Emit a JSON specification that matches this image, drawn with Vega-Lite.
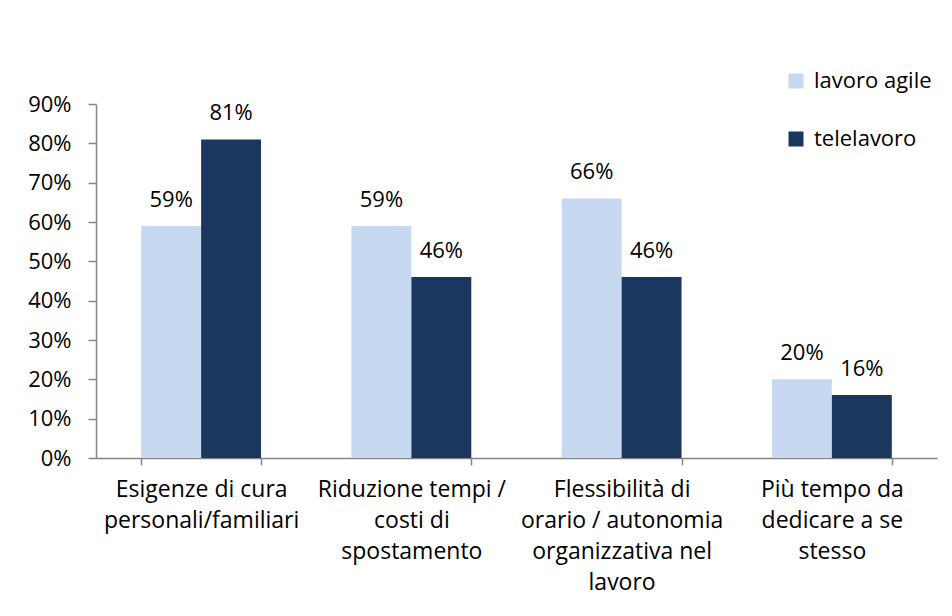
{
  "$schema": "https://vega.github.io/schema/vega-lite/v6.json",
  "width": 841,
  "height": 354,
  "autosize": "none",
  "padding": {"left": 96, "top": 104, "right": 15, "bottom": 158},
  "background": "white",
  "data": {
    "values": [
      {"cat": "Esigenze di cura|personali/familiari", "serie": "lavoro agile", "value": 0.59},
      {"cat": "Esigenze di cura|personali/familiari", "serie": "telelavoro", "value": 0.81},
      {"cat": "Riduzione tempi /|costi di|spostamento", "serie": "lavoro agile", "value": 0.59},
      {"cat": "Riduzione tempi /|costi di|spostamento", "serie": "telelavoro", "value": 0.46},
      {"cat": "Flessibilità di|orario / autonomia|organizzativa nel|lavoro", "serie": "lavoro agile", "value": 0.66},
      {"cat": "Flessibilità di|orario / autonomia|organizzativa nel|lavoro", "serie": "telelavoro", "value": 0.46},
      {"cat": "Più tempo da|dedicare a se|stesso", "serie": "lavoro agile", "value": 0.20},
      {"cat": "Più tempo da|dedicare a se|stesso", "serie": "telelavoro", "value": 0.16}
    ]
  },
  "encoding": {
    "x": {
      "field": "cat",
      "type": "nominal",
      "sort": null,
      "scale": {"paddingInner": 0.43, "paddingOuter": 0.215},
      "axis": {
        "title": null,
        "labelAngle": 0,
        "labelExpr": "split(datum.label, '|')",
        "labelFont": "Open Sans",
        "labelFontSize": 23,
        "labelColor": "#000000",
        "labelLineHeight": 31,
        "labelPadding": 13,
        "labelBaseline": "top",
        "tickBand": "extent",
        "tickSize": 7,
        "tickColor": "#868686",
        "domainColor": "#868686",
        "labelLimit": 0
      }
    },
    "xOffset": {"field": "serie", "type": "nominal", "scale": {"paddingInner": 0, "paddingOuter": 0}},
    "y": {
      "field": "value",
      "type": "quantitative",
      "scale": {"domain": [0, 0.9], "nice": false, "zero": true},
      "axis": {
        "title": null,
        "grid": false,
        "values": [0, 0.1, 0.2, 0.3, 0.4, 0.5, 0.6, 0.7, 0.8, 0.9],
        "format": ".0%",
        "labelFont": "Open Sans",
        "labelFontSize": 22,
        "labelColor": "#000000",
        "labelPadding": 17,
        "tickSize": 8,
        "tickColor": "#868686",
        "domainColor": "#868686"
      }
    }
  },
  "layer": [
    {
      "mark": {"type": "bar"},
      "encoding": {
        "color": {
          "field": "serie",
          "type": "nominal",
          "scale": {"domain": ["lavoro agile", "telelavoro"], "range": ["#C6D9F1", "#1B375F"]},
          "legend": {
            "title": null,
            "orient": "none",
            "legendX": 689,
            "legendY": -34,
            "padding": 0,
            "symbolType": "square",
            "symbolSize": 225,
            "symbolStrokeWidth": 0,
            "labelFont": "Open Sans",
            "labelFontSize": 22,
            "labelColor": "#000000",
            "labelOffset": 7,
            "rowPadding": 36,
            "labelLimit": 0
          }
        }
      }
    },
    {
      "mark": {"type": "text", "dy": -19, "baseline": "alphabetic", "font": "Open Sans", "fontSize": 22, "color": "#000000"},
      "encoding": {
        "text": {"field": "value", "type": "quantitative", "format": ".0%"}
      }
    }
  ],
  "config": {
    "view": {"stroke": null},
    "axis": {"domainWidth": 1.5, "tickWidth": 1.5}
  }
}
